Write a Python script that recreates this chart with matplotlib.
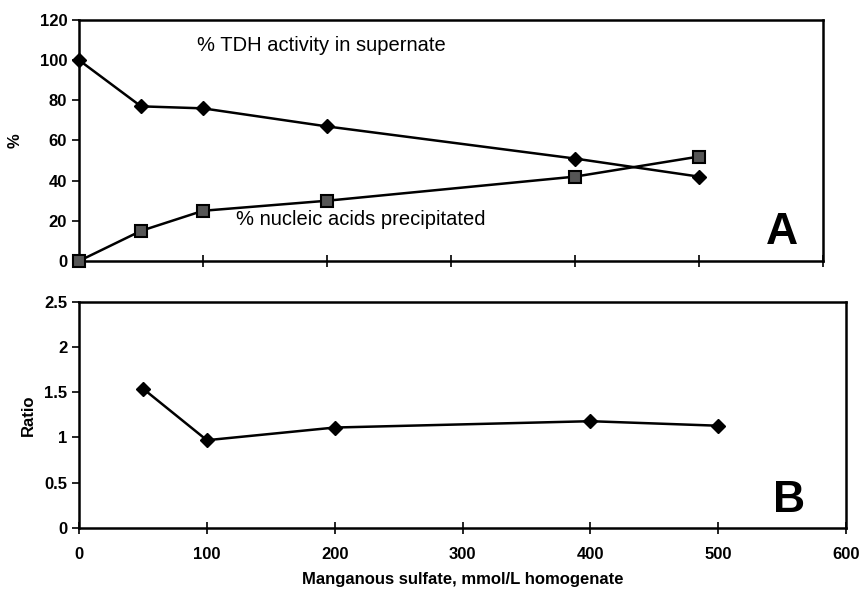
import matplotlib.pyplot as plt

# manganous sulfate added, mmol/L homogenate
mn = [0, 50, 100, 200, 400, 500]
tdh = [100, 77, 76, 67, 51, 42]
nucleic = [0, 15, 25, 30, 42, 52]

mn_ratio = [50, 100, 200, 400, 500]
ratio = [1.54, 0.97, 1.11, 1.18, 1.13]

plt.rcParams['font.family'] = ['Liberation Sans', 'DejaVu Sans']

fig = plt.figure(figsize=(8.6, 5.93), dpi=100)
ax1 = fig.add_axes([0.0919, 0.5599, 0.865, 0.4064])
ax2 = fig.add_axes([0.0919, 0.1096, 0.892, 0.3816])

ax1.plot(mn, tdh, color="black", lw=1.8, marker="D", ms=7, mfc="black", mec="black", clip_on=False, zorder=3)
ax1.plot(mn, nucleic, color="black", lw=1.8, marker="s", ms=8, mfc="#555555", mec="black", mew=1.5, clip_on=False, zorder=3)
ax1.set_xlim(0, 600)
ax1.set_ylim(0, 120)
ax1.set_yticks(range(0, 121, 20))
ax1.set_xticks(range(0, 601, 100))
ax1.set_xticklabels([])
ax1.set_ylabel("%", fontsize=12, fontweight="bold", labelpad=12)
ax1.text(95, 107.5, "% TDH activity in supernate", fontsize=14.5, va="center")
ax1.text(127, 20.5, "% nucleic acids precipitated", fontsize=14.5, va="center")
ax1.text(0.945, 0.12, "A", transform=ax1.transAxes, fontsize=32, fontweight="bold", ha="center", va="center")

ax2.plot(mn_ratio, ratio, color="black", lw=1.8, marker="D", ms=7, mfc="black", mec="black", zorder=3)
ax2.set_xlim(0, 600)
ax2.set_ylim(0, 2.5)
ax2.set_yticks([0, 0.5, 1, 1.5, 2, 2.5])
ax2.set_yticklabels(["0", "0.5", "1", "1.5", "2", "2.5"])
ax2.set_xticks(range(0, 601, 100))
ax2.set_ylabel("Ratio", fontsize=12, fontweight="bold", labelpad=6)
ax2.set_xlabel("Manganous sulfate, mmol/L homogenate", fontsize=12, fontweight="bold", labelpad=7)
ax2.text(0.925, 0.12, "B", transform=ax2.transAxes, fontsize=32, fontweight="bold", ha="center", va="center")

for ax in (ax1, ax2):
    for s in ax.spines.values():
        s.set_linewidth(1.8)
        s.set_color("black")
    ax.tick_params(axis="x", direction="inout", length=8, width=1.2, labelsize=12, pad=10)
    ax.tick_params(axis="y", direction="out", length=5, width=1.2, labelsize=12)
    for lab in ax.get_xticklabels() + ax.get_yticklabels():
        lab.set_fontweight("bold")

fig.savefig("out.png", dpi=100)
